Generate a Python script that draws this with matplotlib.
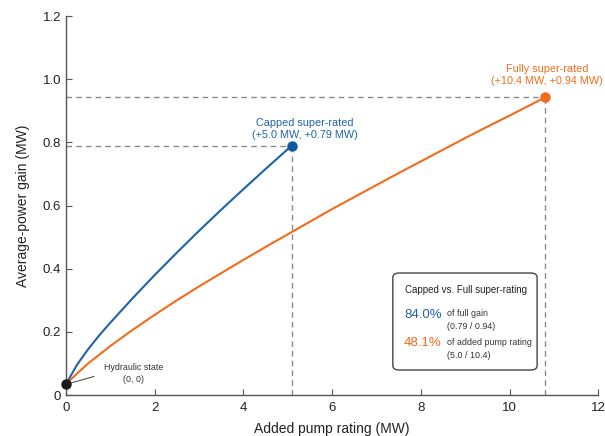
import matplotlib
matplotlib.use("Agg")
import matplotlib.pyplot as plt
from matplotlib.patches import FancyBboxPatch
from matplotlib.ticker import FuncFormatter

plt.rcParams['font.family'] = ['Liberation Sans', 'DejaVu Sans']

# values
capped_x = [0, 0.25, 0.5, 0.75, 1.0, 1.5, 2.0, 2.5, 3.0, 3.5, 4.0, 4.5, 5.09]
capped_y = [0.034, 0.096, 0.145, 0.189, 0.229, 0.306, 0.380, 0.451, 0.520,
            0.587, 0.652, 0.716, 0.79]
full_x = [0, 0.25, 0.5, 1, 1.5, 2, 2.5, 3, 3.5, 4, 4.5, 5, 5.5, 6, 6.5, 7,
          7.5, 8, 8.5, 9, 9.5, 10, 10.5, 10.8]
full_y = [0.034, 0.068, 0.100, 0.155, 0.206, 0.254, 0.300, 0.344, 0.386,
          0.428, 0.469, 0.509, 0.549, 0.589, 0.627, 0.665, 0.703, 0.740,
          0.777, 0.814, 0.850, 0.885, 0.921, 0.943]
origin = (0, 0.034)
x_ticks = [0, 2, 4, 6, 8, 10, 12]
y_ticks = [0, 0.2, 0.4, 0.6, 0.8, 1.0, 1.2]

blue = '#1f63a8'
orange = '#f26c1a'
grey = '#8a8a8a'
dark = '#333333'

fig = plt.figure(figsize=(6.05, 4.36), dpi=100)
ax = fig.add_axes([0.109, 0.094, 0.880, 0.869])

# guide lines
for px, py in [(capped_x[-1], capped_y[-1]), (full_x[-1], full_y[-1])]:
    ax.plot([0, px], [py, py], ls=(0, (4, 3)), color=grey, lw=1)
    ax.plot([px, px], [0, py], ls=(0, (4, 3)), color=grey, lw=1)

ax.plot(full_x, full_y, color=orange, lw=1.5, zorder=3, solid_joinstyle='round')
ax.plot(capped_x, capped_y, color=blue, lw=1.5, zorder=3, solid_joinstyle='round')
ax.plot(capped_x[-1], capped_y[-1], 'o', color='#0d5a9c', ms=6.5, zorder=4)
ax.plot(full_x[-1], full_y[-1], 'o', color=orange, ms=6.5, zorder=4)
ax.plot(*origin, 'o', color='#1a1a1a', ms=6.5, zorder=5, clip_on=False)

ax.text(5.39, 0.843, 'Capped super-rated\n(+5.0 MW, +0.79 MW)', color=blue,
        ha='center', va='center', fontsize=7.8, linespacing=1.25)
ax.text(10.84, 1.015, 'Fully super-rated\n(+10.4 MW, +0.94 MW)', color=orange,
        ha='center', va='center', fontsize=7.8, linespacing=1.25)
ax.annotate('Hydraulic state\n(0, 0)', xy=(0.05, 0.036), xytext=(1.52, 0.067),
            ha='center', va='center', fontsize=6.4, color=dark, linespacing=1.4,
            arrowprops=dict(arrowstyle='-', color='#555555', lw=0.8,
                            shrinkA=5, shrinkB=0, relpos=(0, 0.5)))

# summary box
box = FancyBboxPatch((0.614, 0.066), 0.271, 0.256, transform=ax.transAxes,
                     boxstyle='round,pad=0,rounding_size=0.012',
                     facecolor='white', edgecolor='#444444', lw=1, zorder=6)
ax.add_patch(box)
ax.text(0.637, 0.277, 'Capped vs. Full super-rating', transform=ax.transAxes,
        fontsize=7, color='#222222', va='center', zorder=7)
ax.text(0.635, 0.211, '84.0%', transform=ax.transAxes, fontsize=9.5,
        color=blue, va='center', zorder=7)
ax.text(0.716, 0.214, 'of full gain', transform=ax.transAxes, fontsize=6.4,
        color=dark, va='center', zorder=7)
ax.text(0.716, 0.182, '(0.79 / 0.94)', transform=ax.transAxes, fontsize=6.4,
        color=dark, va='center', zorder=7)
ax.text(0.635, 0.136, '48.1%', transform=ax.transAxes, fontsize=9.5,
        color=orange, va='center', zorder=7)
ax.text(0.716, 0.139, 'of added pump rating', transform=ax.transAxes, fontsize=6.4,
        color=dark, va='center', zorder=7)
ax.text(0.716, 0.104, '(5.0 / 10.4)', transform=ax.transAxes, fontsize=6.4,
        color=dark, va='center', zorder=7)

ax.set_xlim(0, 12)
ax.set_ylim(0, 1.2)
ax.set_xticks(x_ticks)
ax.set_yticks(y_ticks)
ax.yaxis.set_major_formatter(FuncFormatter(lambda v, p: '0' if v == 0 else f'{v:.1f}'))
ax.tick_params(direction='in', length=4, width=0.8, colors='#555555',
               labelcolor='#222222', labelsize=9.5)
ax.tick_params(axis='x', pad=5)
for s in ['top', 'right']:
    ax.spines[s].set_visible(False)
for s in ['left', 'bottom']:
    ax.spines[s].set_color('#555555')
    ax.spines[s].set_linewidth(1)
ax.set_xlabel('Added pump rating (MW)', fontsize=10, color='#222222', labelpad=6)
ax.set_ylabel('Average-power gain (MW)', fontsize=10, color='#222222', labelpad=9)

fig.savefig('out.png', dpi=100)
